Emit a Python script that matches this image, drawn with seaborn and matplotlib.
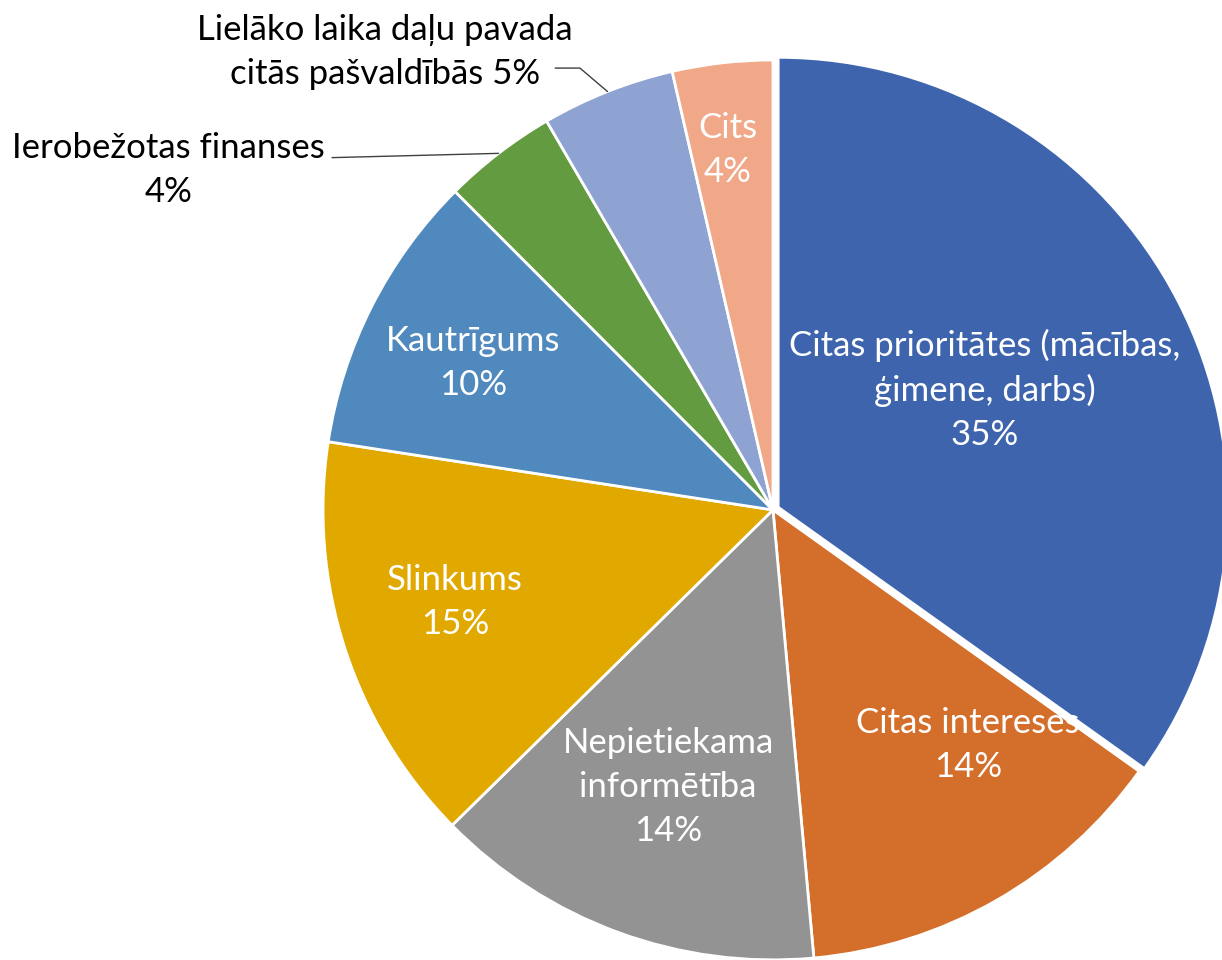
import numpy as np
import seaborn as sns
import matplotlib.pyplot as plt

# slice shares, clockwise from 12 o'clock
categories = ["Citas prioritātes (mācības,\nģimene, darbs)", "Citas intereses",
              "Nepietiekama\ninformētība", "Slinkums", "Kautrīgums",
              "Ierobežotas finanses", "Lielāko laika daļu pavada\ncitās pašvaldībās", "Cits"]
shares = [34.9, 13.7, 14.1, 14.8, 10.1, 4.1, 4.8, 3.6]
colors = ["#3E64AD", "#D46F2B", "#939393", "#E1A900", "#4F89BD", "#629B40", "#8FA3D3", "#F0A888"]

sns.set_theme(style="white")
plt.rcParams['font.family'] = ['Lato', 'DejaVu Sans']

fig = plt.figure(figsize=(12.22, 9.6), dpi=100)
ax = fig.add_axes([0, 0, 1, 1])

explode = [0.013, 0, 0, 0, 0, 0, 0, 0]
wedges, _ = ax.pie(shares, colors=sns.color_palette(colors), startangle=90, counterclock=False,
                   explode=explode, radius=1.0,
                   wedgeprops=dict(edgecolor="white", linewidth=2.0))

ax.set_xlim(-1.718, 0.998)
ax.set_ylim(-1.0, 1.133)
ax.set_aspect("equal")
ax.axis("off")

total = sum(shares)
pct = [f"{round(v / total * 100)}%" for v in shares]

# inside labels: (x, y) anchor in pie units
inside_pos = {0: (0.471, 0.267), 1: (0.433, -0.522), 2: (-0.233, -0.616),
              3: (-0.707, -0.204), 4: (-0.667, 0.327), 7: (-0.10, 0.80)}
fs = 25
ls = 1.45
for i, (x, y) in inside_pos.items():
    ax.text(x, y, categories[i] + "\n" + pct[i], ha="center", va="center",
            color="white", fontsize=fs, linespacing=ls)


def arc_point(w):
    mid = np.deg2rad((w.theta1 + w.theta2) / 2)
    return np.cos(mid) * w.r, np.sin(mid) * w.r


# Ierobežotas finanses (outside, leader line)
ax.text(-1.344, 0.756, categories[5] + "\n" + pct[5], ha="center", va="center",
        color="black", fontsize=fs, linespacing=ls)
px, py = arc_point(wedges[5])
ax.plot([-0.98, px], [0.783, py], color="#404040", lw=1.0)

# Lielāko laika daļu ... (outside, leader line)
ax.text(-0.862, 1.018, categories[6] + " " + pct[6], ha="center", va="center",
        color="black", fontsize=fs, linespacing=ls)
px, py = arc_point(wedges[6])
ax.plot([-0.484, -0.429, px], [0.982, 0.982, py], color="#404040", lw=1.0)

fig.savefig("out.png", dpi=100)
